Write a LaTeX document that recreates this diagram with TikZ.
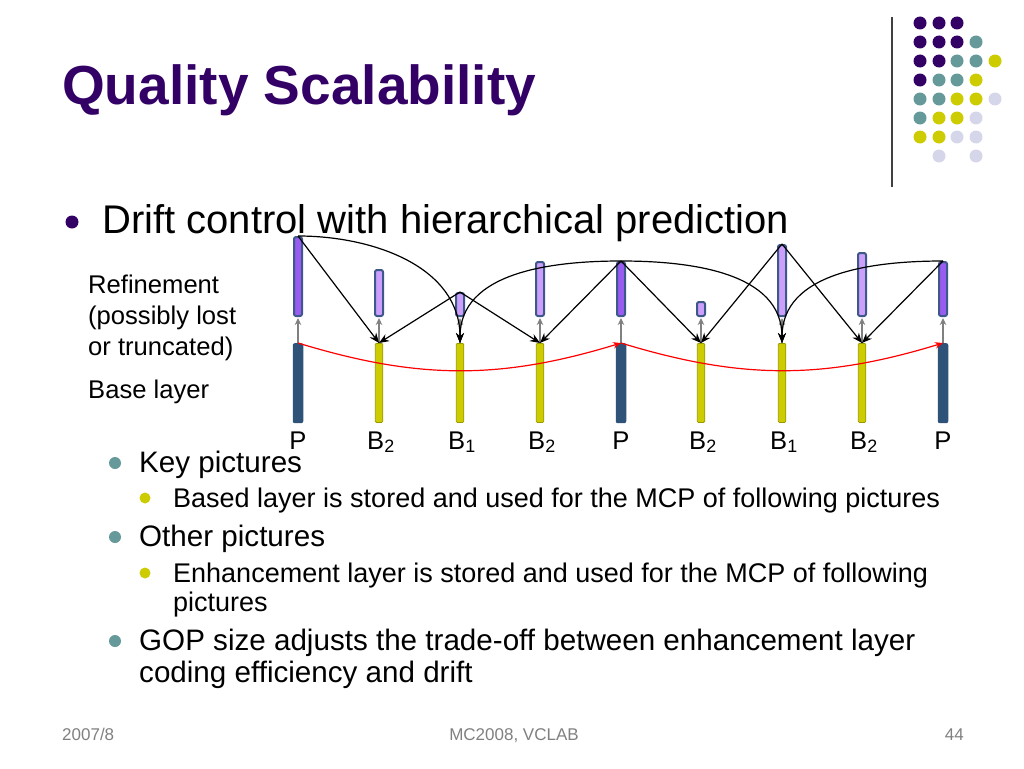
\documentclass[tikz,border=0pt]{standalone}
\usepackage{fontspec}
\setmainfont{Liberation Sans}
\usetikzlibrary{arrows.meta}

\definecolor{slidepurple}{RGB}{51,0,102}
\definecolor{slideteal}{RGB}{102,153,153}
\definecolor{slideyellow}{RGB}{204,204,0}
\definecolor{slidelav}{RGB}{214,214,235}
\definecolor{basedark}{RGB}{46,82,120}
\definecolor{barline}{RGB}{62,88,140}
\definecolor{refdark}{RGB}{153,92,240}
\definecolor{reflight}{RGB}{204,160,250}
\definecolor{footgray}{RGB}{128,128,128}

\tikzset{
  title/.style={anchor=base west, inner sep=0pt, text=slidepurple, font=\fontsize{55}{66}\selectfont\bfseries},
  lvlone/.style={anchor=base west, inner sep=0pt, font=\fontsize{40}{48}\selectfont},
  lvltwo/.style={anchor=base west, inner sep=0pt, font=\fontsize{29.6}{36}\selectfont},
  lvlthree/.style={anchor=base west, inner sep=0pt, font=\fontsize{27}{32}\selectfont},
  lbl/.style={anchor=base west, inner sep=0pt, font=\fontsize{25.6}{31}\selectfont},
  piclbl/.style={anchor=base, inner sep=0pt, font=\fontsize{25.6}{31}\selectfont},
  foot/.style={inner sep=0pt, text=footgray, font=\fontsize{17}{20}\selectfont},
  pbase/.style={rectangle, anchor=north, inner sep=0pt, rounded corners=2pt, fill=basedark, minimum width=10.5pt, minimum height=80pt},
  bbase/.style={rectangle, anchor=north, inner sep=0pt, rounded corners=1pt, fill=slideyellow, draw=slideyellow!75!black, line width=0.8pt, minimum width=7.5pt, minimum height=79pt},
  pref/.style={rectangle, anchor=south, inner sep=0pt, rounded corners=2pt, fill=refdark, draw=barline, line width=2pt, minimum width=8pt},
  bref/.style={pref, fill=reflight},
  pred/.style={->, line width=1.2pt},
  lift/.style={->, gray, line width=1.5pt, >={Stealth[length=7pt,width=6.5pt]}, shorten >=1pt},
  drift/.style={->, red, line width=1.2pt, >={Stealth[length=8pt,width=6.5pt]}}
}

\begin{document}
\begin{tikzpicture}[x=1pt, y=-1pt, >={Stealth[length=10pt,width=8pt]}]
\useasboundingbox (0,0) rectangle (1024,768);

% title and corner
\node[title] (head) at (62,104) {Quality Scalability};
\draw[line width=1.5pt, black!75] (892,17) -- (892,187);
\fill[slidepurple] (920,23) circle (6.5);
\fill[slidepurple] (939,23) circle (6.5);
\fill[slidepurple] (957,23) circle (6.5);
\fill[slidepurple] (920,42) circle (6.5);
\fill[slidepurple] (939,42) circle (6.5);
\fill[slidepurple] (957,42) circle (6.5);
\fill[slideteal] (976,42) circle (6.5);
\fill[slidepurple] (920,61) circle (6.5);
\fill[slidepurple] (939,61) circle (6.5);
\fill[slideteal] (957,61) circle (6.5);
\fill[slideteal] (976,61) circle (6.5);
\fill[slideyellow] (995,61) circle (6.5);
\fill[slidepurple] (920,80) circle (6.5);
\fill[slideteal] (939,80) circle (6.5);
\fill[slideteal] (957,80) circle (6.5);
\fill[slideyellow] (976,80) circle (6.5);
\fill[slideteal] (920,99) circle (6.5);
\fill[slideteal] (939,99) circle (6.5);
\fill[slideyellow] (957,99) circle (6.5);
\fill[slideyellow] (976,99) circle (6.5);
\fill[slidelav] (995,99) circle (6.5);
\fill[slideteal] (920,118) circle (6.5);
\fill[slideyellow] (939,118) circle (6.5);
\fill[slideyellow] (957,118) circle (6.5);
\fill[slidelav] (976,118) circle (6.5);
\fill[slideyellow] (920,137) circle (6.5);
\fill[slideyellow] (939,137) circle (6.5);
\fill[slidelav] (957,137) circle (6.5);
\fill[slidelav] (976,137) circle (6.5);
\fill[slidelav] (939,156) circle (6.5);
\fill[slidelav] (976,156) circle (6.5);

% bullets
\fill[slidepurple] (72,222) circle (6.5);
\node[lvlone] (drift) at (102,233) {Drift control with hierarchical prediction};
\fill[slideteal] (115,463) circle (6);
\node[lvltwo] (key) at (139,472) {Key pictures};
\fill[slideyellow] (145,498) circle (5.5);
\node[lvlthree] (keynote) at (173,507) {Based layer is stored and used for the MCP of following pictures};
\fill[slideteal] (115,537) circle (6);
\node[lvltwo] (other) at (139,546) {Other pictures};
\fill[slideyellow] (145,573) circle (5.5);
\node[lvlthree] (othernote) at (173,582) {Enhancement layer is stored and used for the MCP of following};
\node[lvlthree] (othernoteb) at (173,611) {pictures};
\fill[slideteal] (115,641) circle (6);
\node[lvltwo] (gop) at (139,650) {GOP size adjusts the trade-off between enhancement layer};
\node[lvltwo] (gopb) at (139,682) {coding efficiency and drift};

% layer labels
\node[lbl] (refine) at (88,293) {Refinement};
\node[lbl] (lost) at (88,324) {(possibly lost};
\node[lbl] (trunc) at (88,355) {or truncated)};
\node[lbl] (baselbl) at (88,398) {Base layer};

% base layer
\node[pbase] (b1) at (298,343) {};
\node[bbase] (b2) at (379,343) {};
\node[bbase] (b3) at (460,343) {};
\node[bbase] (b4) at (540,343) {};
\node[pbase] (b5) at (621,343) {};
\node[bbase] (b6) at (701,343) {};
\node[bbase] (b7) at (782,343) {};
\node[bbase] (b8) at (862,343) {};
\node[pbase] (b9) at (943,343) {};

% refinement layer
\node[pref, minimum height=79pt] (r1) at (298,317) {};
\node[bref, minimum height=46pt] (r2) at (379,317) {};
\node[bref, minimum height=23pt] (r3) at (460,317) {};
\node[bref, minimum height=54pt] (r4) at (540,317) {};
\node[pref, minimum height=54pt] (r5) at (621,317) {};
\node[bref, minimum height=14pt] (r6) at (701,317) {};
\node[bref, minimum height=71pt] (r7) at (782,317) {};
\node[bref, minimum height=63pt] (r8) at (862,317) {};
\node[pref, minimum height=54pt] (r9) at (943,317) {};

% picture types
\node[piclbl] (t1) at (298,449) {P};
\node[piclbl] (t2) at (381,449) {B\textsubscript{2}};
\node[piclbl] (t3) at (462,449) {B\textsubscript{1}};
\node[piclbl] (t4) at (542,449) {B\textsubscript{2}};
\node[piclbl] (t5) at (621,449) {P};
\node[piclbl] (t6) at (703,449) {B\textsubscript{2}};
\node[piclbl] (t7) at (784,449) {B\textsubscript{1}};
\node[piclbl] (t8) at (864,449) {B\textsubscript{2}};
\node[piclbl] (t9) at (943,449) {P};

% base to refinement
\draw[lift] (b1.north) -- (r1.south);
\draw[lift] (b2.north) -- (r2.south);
\draw[lift] (b3.north) -- (r3.south);
\draw[lift] (b4.north) -- (r4.south);
\draw[lift] (b5.north) -- (r5.south);
\draw[lift] (b6.north) -- (r6.south);
\draw[lift] (b7.north) -- (r7.south);
\draw[lift] (b8.north) -- (r8.south);
\draw[lift] (b9.north) -- (r9.south);

% hierarchical prediction
\draw[pred] (r1.north) -- (b2.north);
\draw[pred] (r1.north) to[out=0, in=90] (b3.north);
\draw[pred] (r3.north) -- (b2.north);
\draw[pred] (r3.north) -- (b4.north);
\draw[pred] (r5.north) -- (b4.north);
\draw[pred] (r5.north) to[out=180, in=90] (b3.north);
\draw[pred] (r5.north) -- (b6.north);
\draw[pred] (r5.north) to[out=0, in=90] (b7.north);
\draw[pred] (r7.north) -- (b6.north);
\draw[pred] (r7.north) -- (b8.north);
\draw[pred] (r9.north) -- (b8.north);
\draw[pred] (r9.north) to[out=180, in=90] (b7.north);

% key picture drift
\draw[drift] (b1.north) to[bend right=17] (b5.north);
\draw[drift] (b5.north) to[bend right=17] (b9.north);

% footer
\node[foot, anchor=base west] (date) at (62,740) {2007/8};
\node[foot, anchor=base] (venue) at (514,740) {MC2008, VCLAB};
\node[foot, anchor=base east] (page) at (964,740) {44};
\end{tikzpicture}
\end{document}
